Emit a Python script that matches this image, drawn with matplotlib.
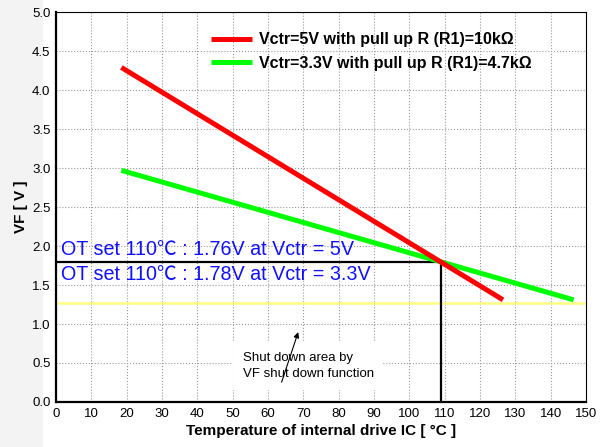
import matplotlib.pyplot as plt
from matplotlib.patches import Rectangle

plt.rcParams['font.family'] = ['Liberation Sans', 'DejaVu Sans']

# data
temp_5v = [18.5, 126.5]
vf_5v = [4.29, 1.31]
temp_33v = [18.5, 146.5]
vf_33v = [2.97, 1.31]
ot_temp = 109
ot_vf = 1.79
shutdown_vf = 1.27

label_5v = 'Vctr=5V with pull up R (R1)=10k\u03a9'
label_33v = 'Vctr=3.3V with pull up R (R1)=4.7k\u03a9'
note_5v = 'OT set 110\u2103 : 1.76V at Vctr = 5V'
note_33v = 'OT set 110\u2103 : 1.78V at Vctr = 3.3V'
note_shutdown = 'Shut down area by\nVF shut down function'

fig = plt.figure(figsize=(6.06, 4.47), dpi=100)
fig.patches.append(Rectangle((0, 0), 0.07, 1, transform=fig.transFigure,
                             color='#f3f3f3', zorder=-5))
ax = fig.add_axes([0.0924, 0.1007, 0.8746, 0.8723])

ax.plot(temp_5v, vf_5v, color='#ff0000', lw=3.6, solid_capstyle='butt', label=label_5v, zorder=4)
ax.plot(temp_33v, vf_33v, color='#00ff00', lw=3.6, solid_capstyle='butt', label=label_33v, zorder=3)
ax.axhline(shutdown_vf, color='#ffff80', lw=1.8, zorder=2)
ax.plot([0, ot_temp], [ot_vf, ot_vf], color='black', lw=1.6, zorder=2)
ax.plot([ot_temp, ot_temp], [0, ot_vf], color='black', lw=1.6, zorder=2)

blue_font = ['Liberation Sans', 'Noto Sans CJK JP', 'DejaVu Sans']
ax.text(1.3, 1.89, note_5v, color='#1010ff', fontsize=14.2, family=blue_font, zorder=5)
ax.text(1.3, 1.56, note_33v, color='#1010ff', fontsize=14.2, family=blue_font, zorder=5)

ax.annotate('', xy=(68.8, 0.93), xytext=(63.6, 0.22),
            arrowprops=dict(arrowstyle='-|>', color='black', lw=0.8, mutation_scale=8), zorder=6)
ax.text(52.8, 0.46, note_shutdown, fontsize=9.5, va='center', ha='left', linespacing=1.45,
        bbox=dict(facecolor='white', edgecolor='none', pad=7), zorder=5)

ax.set_xlim(0, 150)
ax.set_ylim(0, 5)
ax.set_xticks(range(0, 151, 10))
ax.set_yticks([i * 0.5 for i in range(11)])
ax.set_yticklabels(['%.1f' % (i * 0.5) for i in range(11)])
ax.tick_params(length=0, labelsize=9.5, pad=4)
ax.grid(True, color='#999999', ls=':', lw=0.8)
ax.set_axisbelow(True)
for side in ['left', 'bottom']:
    ax.spines[side].set_linewidth(1.6)
for side in ['top', 'right']:
    ax.spines[side].set_linewidth(0.8)

ax.set_xlabel('Temperature of internal drive IC [ \u00b0C ]', fontsize=11, fontweight='bold', labelpad=3)
ax.set_ylabel('VF [ V ]', fontsize=11, fontweight='bold', labelpad=3)

leg = ax.legend(loc='upper left', bbox_to_anchor=(0.265, 0.985), frameon=False,
                prop={'weight': 'bold', 'size': 11.5}, handlelength=2.6,
                handletextpad=0.4, labelspacing=0.55)

fig.savefig('out.png', dpi=100)
